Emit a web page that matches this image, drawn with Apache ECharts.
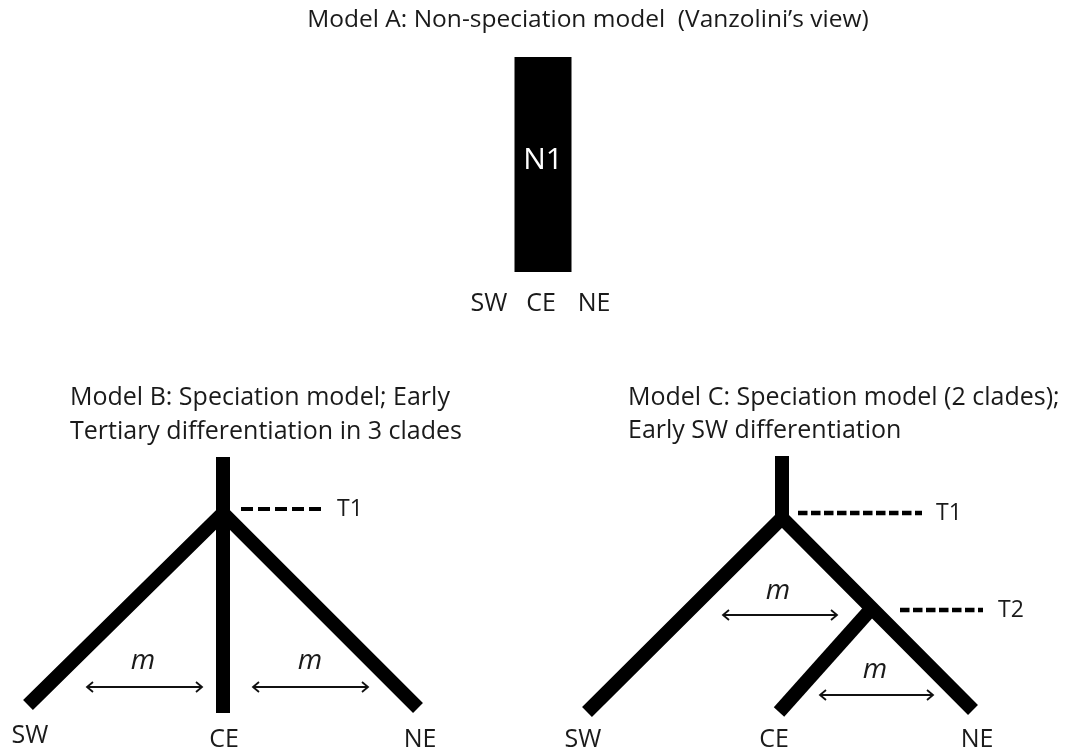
<!DOCTYPE html>
<html>
<head>
<meta charset="utf-8">
<script src="https://cdn.jsdelivr.net/npm/echarts@6/dist/echarts.min.js"></script>
<style>
html,body{margin:0;padding:0;background:#fff;}
#chart{width:1073px;height:754px;}
</style>
</head>
<body>
<div id="chart"></div>
<script>
// ---- data ----
const categories = ['SW', 'CE', 'NE'];

// Model A: single undivided population N1
const popA = [[[543, 57], [543, 272]]];
const popALabel = ['N1'];
const tipsA = [[489, 304], [541, 304], [594, 304]];

// Model B: three clades from one split (T1)
const branchesB = [
  [[223, 457], [223, 713]],
  [[28, 705], [223, 513], [418, 708]]
];
const timesB = [[[241, 509], [324, 509]]];
const timeLabelsB = ['T1'];
const timeLabelPosB = [[350, 509]];
const migB = [[[87, 687], [202, 687]], [[253, 687], [368, 687]]];
const migLabelPosB = [[143, 661], [310, 661]];
const tipsB = [[30, 736], [224, 740], [420, 740]];

// Model C: two splits (T1, T2)
const branchesC = [
  [[782, 456], [782, 518]],
  [[587, 712], [782, 518], [973, 710]],
  [[872, 608], [779, 712]]
];
const timesC = [[[798, 513], [922, 513]], [[900, 610], [983, 610]]];
const timeLabelsC = ['T1', 'T2'];
const timeLabelPosC = [[949, 513], [1011, 610]];
const migC = [[[723, 615], [837, 615]], [[820, 695], [933, 695]]];
const migLabelPosC = [[778, 591], [875, 670]];
const tipsC = [[583, 740], [774, 740], [977, 740]];

// titles
const titles = [
  'Model A: Non-speciation model  (Vanzolini\u2019s view)',
  'Model B: Speciation model; Early',
  'Tertiary differentiation in 3 clades',
  'Model C: Speciation model (2 clades);',
  'Early SW differentiation'
];
const titlePos = [[588, 20], [70, 398], [70, 432], [628, 398], [628, 431]];
const titleAlign = ['center', 'left', 'left', 'left', 'left'];
const titleSize = [24.5, 25, 25, 25, 25];

// ---- build ----
const FONT = '"Open Sans", "Noto Sans", sans-serif';
const INK = '#1a1a1a';

const texts = [];
titles.forEach((t, i) => texts.push({value: titlePos[i], text: t, size: titleSize[i], align: titleAlign[i], italic: false}));
[tipsA, tipsB, tipsC].forEach(tips => tips.forEach((p, i) => texts.push({value: p, text: categories[i], size: 25, align: 'center', italic: false})));
timeLabelPosB.forEach((p, i) => texts.push({value: p, text: timeLabelsB[i], size: 23, align: 'center', italic: false}));
timeLabelPosC.forEach((p, i) => texts.push({value: p, text: timeLabelsC[i], size: 23, align: 'center', italic: false}));
migLabelPosB.concat(migLabelPosC).forEach(p => texts.push({value: p, text: 'm', size: 28, align: 'center', italic: true}));

const branchData = branchesB.concat(branchesC).map(c => ({coords: c}));
const timeDataB = timesB.map(c => ({coords: c}));
const timeDataC = timesC.map(c => ({coords: c}));
const migData = migB.concat(migC).map(c => ({value: [c[0][0], c[0][1], c[1][0], c[1][1]]}));

const chart = echarts.init(document.getElementById('chart'));
chart.setOption({
  backgroundColor: '#fff',
  animation: false,
  grid: {left: 0, right: 0, top: 0, bottom: 0},
  xAxis: {type: 'value', min: 0, max: 1073, show: false},
  yAxis: {type: 'value', min: 0, max: 754, inverse: true, show: false},
  series: [
    {
      type: 'lines', coordinateSystem: 'cartesian2d', polyline: true, silent: true,
      data: popA.map(c => ({coords: c})),
      lineStyle: {color: '#000', width: 57, opacity: 1, cap: 'butt'}
    },
    {
      type: 'lines', coordinateSystem: 'cartesian2d', polyline: true, silent: true,
      data: branchData,
      lineStyle: {color: '#000', width: 14, opacity: 1, cap: 'butt', join: 'miter', miterLimit: 10}
    },
    {
      type: 'lines', coordinateSystem: 'cartesian2d', polyline: true, silent: true,
      data: timeDataB,
      lineStyle: {color: '#000', width: 4, opacity: 1, type: [12, 5], cap: 'butt'}
    },
    {
      type: 'lines', coordinateSystem: 'cartesian2d', polyline: true, silent: true,
      data: timeDataC,
      lineStyle: {color: '#000', width: 4.5, opacity: 1, type: [9.5, 3.5], cap: 'butt'}
    },
    {
      type: 'custom', coordinateSystem: 'cartesian2d', silent: true,
      data: migData,
      renderItem: function (params, api) {
        const a = api.coord([api.value(0), api.value(1)]);
        const b = api.coord([api.value(2), api.value(3)]);
        const h = 5, w = 6;
        const st = {stroke: '#111', lineWidth: 1.8, fill: 'none'};
        return {
          type: 'group',
          children: [
            {type: 'line', shape: {x1: a[0], y1: a[1], x2: b[0], y2: b[1]}, style: st},
            {type: 'polyline', shape: {points: [[a[0] + w, a[1] - h], [a[0], a[1]], [a[0] + w, a[1] + h]]}, style: st},
            {type: 'polyline', shape: {points: [[b[0] - w, b[1] - h], [b[0], b[1]], [b[0] - w, b[1] + h]]}, style: st}
          ]
        };
      }
    },
    {
      type: 'custom', coordinateSystem: 'cartesian2d', silent: true,
      data: popALabel.map((t, i) => ({value: [(popA[i][0][0] + popA[i][1][0]) / 2, (popA[i][0][1] + popA[i][1][1]) / 2]})),
      renderItem: function (params, api) {
        const p = api.coord([api.value(0), api.value(1)]);
        return {type: 'text', x: p[0], y: p[1] - 4, style: {text: popALabel[params.dataIndex], fill: '#fff', font: '30px ' + FONT, align: 'center', verticalAlign: 'middle'}};
      }
    },
    {
      type: 'custom', coordinateSystem: 'cartesian2d', silent: true,
      data: texts.map(t => ({value: t.value})),
      renderItem: function (params, api) {
        const t = texts[params.dataIndex];
        const p = api.coord([api.value(0), api.value(1)]);
        return {
          type: 'text', x: p[0], y: p[1],
          style: {text: t.text, fill: INK, font: (t.italic ? 'italic ' : '') + t.size + 'px ' + FONT, align: t.align, verticalAlign: 'middle'}
        };
      }
    }
  ]
});
</script>
</body>
</html>
